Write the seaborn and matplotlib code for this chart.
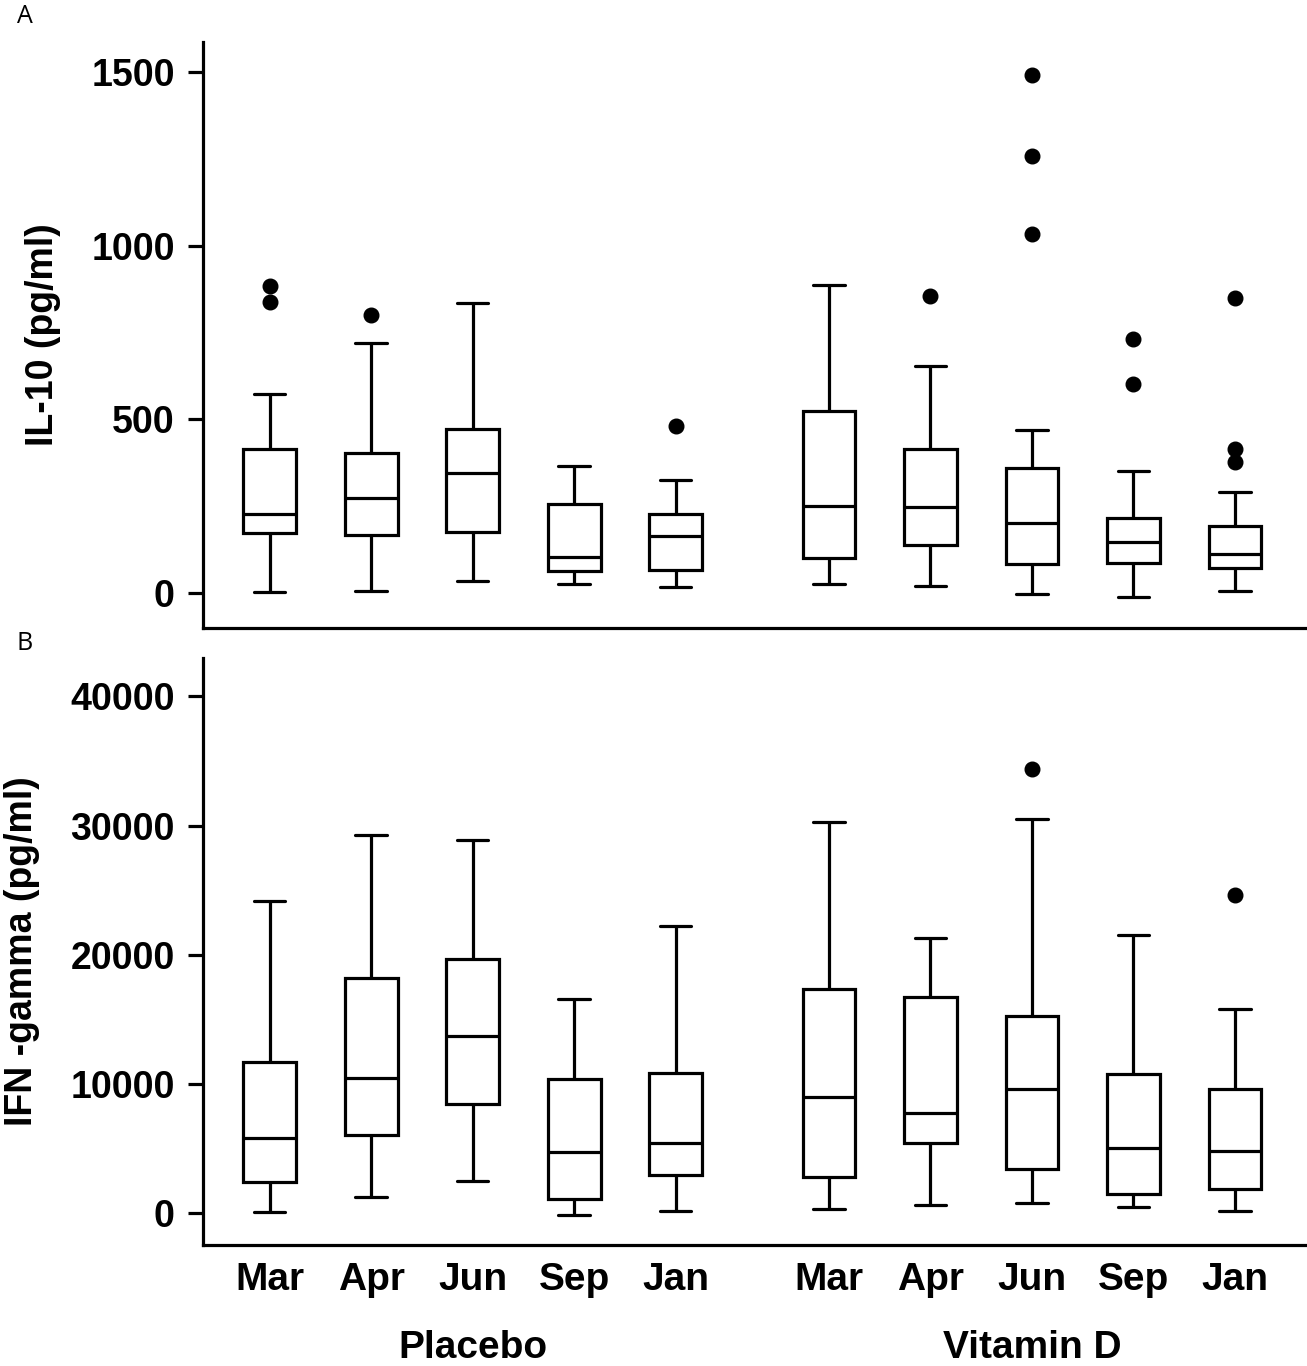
import numpy as np
import pandas as pd
import matplotlib
matplotlib.use("Agg")
import matplotlib.pyplot as plt
import matplotlib.transforms as mtransforms
import seaborn as sns

# --- data: (lower whisker, Q1, median, Q3, upper whisker) ---
months = ["Mar", "Apr", "Jun", "Sep", "Jan"]
groups = ["Placebo", "Vitamin D"]

il10_placebo_box = [(3, 174, 229, 416, 574), (7, 166, 275, 402, 720),
                    (34, 176, 346, 471, 835), (26, 63, 103, 257, 367),
                    (17, 68, 164, 227, 325)]
il10_placebo_out = [[839, 883], [801], [], [], [482]]
il10_vitd_box = [(26, 102, 252, 524, 888), (21, 138, 249, 414, 653),
                 (-2, 85, 201, 359, 470), (-12, 87, 146, 217, 352),
                 (5, 72, 112, 192, 290)]
il10_vitd_out = [[], [854], [1034, 1259, 1490], [601, 731], [378, 414, 849]]

ifn_placebo_box = [(60, 2370, 5800, 11700, 24170), (1210, 6040, 10430, 18220, 29250),
                   (2430, 8430, 13660, 19670, 28850), (-140, 1040, 4740, 10370, 16580),
                   (140, 2950, 5370, 10830, 22180)]
ifn_placebo_out = [[], [], [], [], []]
ifn_vitd_box = [(290, 2740, 8950, 17360, 30290), (610, 5370, 7740, 16750, 21260),
                (780, 3410, 9590, 15250, 30500), (430, 1470, 5000, 10710, 21520),
                (170, 1820, 4790, 9560, 15800)]
ifn_vitd_out = [[], [], [34370], [], [24610]]

il10_ticks = [0, 500, 1000, 1500]
ifn_ticks = [0, 10000, 20000, 30000, 40000]

GROUP_GAP = 5.51  # x offset of the second group


def expand(box, extra):
    # sample whose quartiles / whiskers reproduce the read summary
    lo, q1, med, q3, hi = box
    return [lo] + [q1] * 10 + [med] * 10 + [q3] * 10 + [hi] + list(extra)


def build_frame(boxes, outs):
    rows = []
    for g, (b_list, o_list) in enumerate(zip(boxes, outs)):
        for m, month in enumerate(months):
            for v in expand(b_list[m], o_list[m]):
                rows.append({"group": groups[g], "month": month, "value": v})
    df = pd.DataFrame(rows)
    df["pos"] = (df["month"].map({m: i for i, m in enumerate(months)})
                 + df["group"].map({groups[0]: 0.0, groups[1]: GROUP_GAP}))
    return df


il10 = build_frame([il10_placebo_box, il10_vitd_box], [il10_placebo_out, il10_vitd_out])
ifn = build_frame([ifn_placebo_box, ifn_vitd_box], [ifn_placebo_out, ifn_vitd_out])

sns.set_style("ticks")
plt.rcParams.update({
    "font.family": ["Liberation Sans", "DejaVu Sans"],
    "font.weight": "bold",
    "text.color": "black",
    "axes.labelcolor": "black",
    "axes.edgecolor": "black",
    "xtick.color": "black",
    "ytick.color": "black",
})

LW = 2.3
fig = plt.figure(figsize=(13.07, 13.66), dpi=100)
axA = fig.add_axes([0.1553, 0.5403, 0.8432, 0.4290])
axB = fig.add_axes([0.1553, 0.0886, 0.8432, 0.4297])

xticks = list(range(len(months))) + [GROUP_GAP + i for i in range(len(months))]

for ax, df, ticks, ylim, ylabel in [
    (axA, il10, il10_ticks, (-100, 1586), "IL-10 (pg/ml)"),
    (axB, ifn, ifn_ticks, (-2500, 42980), "IFN -gamma (pg/ml)"),
]:
    sns.boxplot(data=df, x="pos", y="value", native_scale=True, orient="x",
                width=0.52, color="white", linecolor="black", linewidth=LW,
                fliersize=10.5, capwidths=0.31,
                flierprops=dict(marker="o", markerfacecolor="black",
                                markeredgecolor="black"),
                ax=ax)
    ax.set_xlim(-0.657, 10.2)
    ax.set_ylim(*ylim)
    ax.set_yticks(ticks)
    ax.set_yticklabels([str(t) for t in ticks], fontsize=27, fontweight="bold")
    ax.set_xticks(xticks)
    ax.set_xlabel("")
    ax.set_ylabel(ylabel, fontsize=27, fontweight="bold", labelpad=22)
    ax.tick_params(axis="y", length=10.8, width=LW, pad=9.5)
    ax.tick_params(axis="x", length=0, pad=12)
    sns.despine(ax=ax)
    for s in ["left", "bottom"]:
        ax.spines[s].set_linewidth(LW)

axA.set_xticklabels([])
axB.set_xticklabels(months * 2, fontsize=28, fontweight="bold")

trans = mtransforms.blended_transform_factory(axB.transData, axB.transAxes)
for g, x0 in zip(groups, [0.0, GROUP_GAP]):
    axB.text(x0 + 2, -0.176, g, transform=trans, ha="center", va="center",
             fontsize=28, fontweight="bold")

fig.text(0.019, 0.988, "A", fontsize=18, fontweight="normal",
         family=["Open Sans", "DejaVu Sans"], ha="center", va="center")
fig.text(0.019, 0.529, "B", fontsize=18, fontweight="normal",
         family=["Open Sans", "DejaVu Sans"], ha="center", va="center")

fig.savefig("out.png", dpi=100)
